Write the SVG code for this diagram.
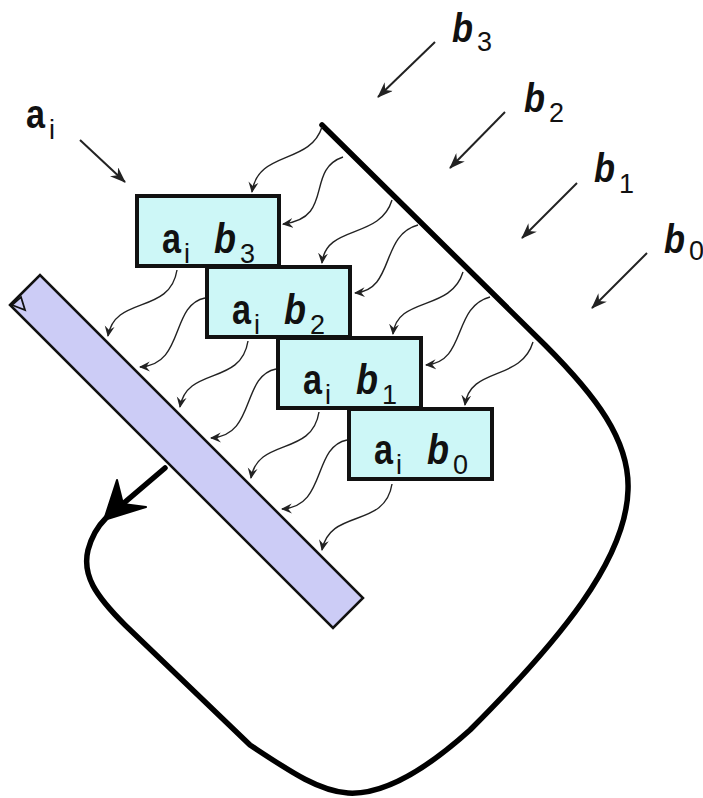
<svg xmlns="http://www.w3.org/2000/svg" width="703" height="798" viewBox="0 0 703 798">
<style>
.box{fill:#cdf7f7;stroke:#111;stroke-width:4}
.bar{fill:#ccccf6;stroke:#111;stroke-width:2.5}
.big{font-family:"Liberation Sans",Arial,sans-serif;font-weight:bold;fill:#111}
.bx{font-size:42px}
.lb{font-size:40px}
.it{font-style:italic}
.sub{font-family:"Liberation Sans",Arial,sans-serif;font-weight:normal;fill:#111;font-size:27px}
.wave{fill:none;stroke:#222;stroke-width:1.4;marker-end:url(#wh)}
.str{fill:none;stroke:#222;stroke-width:2;marker-end:url(#sh)}
.loop{fill:none;stroke:#000;stroke-width:5.5;stroke-linejoin:round;stroke-linecap:round}
</style>
<defs>
<marker id="wh" viewBox="0 0 10 10" refX="9" refY="5" markerWidth="11" markerHeight="11" markerUnits="userSpaceOnUse" orient="auto">
<path d="M0,0.5 L10,5 L0,9.5 L3.5,5 z" fill="#222"/>
</marker>
<marker id="sh" viewBox="0 0 16 12" refX="15" refY="6" markerWidth="16" markerHeight="12" markerUnits="userSpaceOnUse" orient="auto">
<path d="M0,0 L16,6 L0,12 L5,6 z" fill="#222"/>
</marker>
</defs>
<rect width="703" height="798" fill="#fff"/>

<g id="connectors">
<path class="loop" d="M322,125 L545,345 C595,395 630,440 628,490 C626,560 560,640 470,730 C420,775 380,795 348,793 C318,791 288,770 250,745 L125,625 C95,595 82,575 88,550 C92,535 98,526 106,518"/>
<line class="loop" x1="165" y1="468" x2="118" y2="508"/>
<path d="M104,520 L117,480 L123,504 L146,507 z" fill="#000" stroke="#000" stroke-width="2" stroke-linejoin="round"/>
<line class="str" x1="80" y1="140" x2="125" y2="182"/>
<line class="str" x1="435" y1="42" x2="378" y2="97"/>
<line class="str" x1="505" y1="112" x2="450" y2="168"/>
<line class="str" x1="577" y1="183" x2="522" y2="238"/>
<line class="str" x1="647" y1="253" x2="592" y2="308"/>
<path class="wave" d="M322,127 C310,165 258,150 252,192"/>
<path class="wave" d="M343,157 C305,170 335,218 283,224"/>
<path class="wave" d="M392,200 C380,240 326,224 322,263"/>
<path class="wave" d="M418,225 C380,235 395,290 355,293"/>
<path class="wave" d="M463,272 C451,312 397,296 393,334"/>
<path class="wave" d="M490,297 C452,307 467,362 426,365"/>
<path class="wave" d="M533,342 C521,382 470,366 465,405"/>
<path class="wave" d="M177,270 C170,315 115,295 108,336"/>
<path class="wave" d="M205,298 C170,305 185,365 140,367"/>
<path class="wave" d="M248,341 C241,386 187,366 180,407"/>
<path class="wave" d="M276,369 C241,376 256,436 211,438"/>
<path class="wave" d="M319,412 C312,457 258,437 251,478"/>
<path class="wave" d="M347,440 C312,447 327,507 282,509"/>
<path class="wave" d="M392,484 C385,529 330,508 322,550"/>
</g>

<g id="bar">
<polygon class="bar" points="10,305 40,275 363,598 333,628"/>
<polygon points="12,305 21,297 25,310" fill="none" stroke="#111" stroke-width="1.8"/>
</g>

<g id="box1">
<rect class="box" x="137" y="196" width="142" height="70"/>
<text class="big bx" x="162" y="253" textLength="19" lengthAdjust="spacingAndGlyphs">a</text><text class="sub" x="184" y="263">i</text>
<text class="big bx it" x="214" y="253" textLength="22" lengthAdjust="spacingAndGlyphs">b</text><text class="sub" x="240" y="263">3</text>
</g>
<g id="box2">
<rect class="box" x="207" y="267" width="143" height="70"/>
<text class="big bx" x="232" y="324" textLength="19" lengthAdjust="spacingAndGlyphs">a</text><text class="sub" x="254" y="334">i</text>
<text class="big bx it" x="284" y="324" textLength="22" lengthAdjust="spacingAndGlyphs">b</text><text class="sub" x="310" y="334">2</text>
</g>
<g id="box3">
<rect class="box" x="278" y="338" width="143" height="70"/>
<text class="big bx" x="303" y="394" textLength="19" lengthAdjust="spacingAndGlyphs">a</text><text class="sub" x="325" y="404">i</text>
<text class="big bx it" x="356" y="394" textLength="22" lengthAdjust="spacingAndGlyphs">b</text><text class="sub" x="382" y="404">1</text>
</g>
<g id="box4">
<rect class="box" x="349" y="409" width="143" height="70"/>
<text class="big bx" x="374" y="464" textLength="19" lengthAdjust="spacingAndGlyphs">a</text><text class="sub" x="396" y="474">i</text>
<text class="big bx it" x="427" y="464" textLength="22" lengthAdjust="spacingAndGlyphs">b</text><text class="sub" x="453" y="474">0</text>
</g>

<g id="label-ai">
<text class="big lb" x="26" y="128" textLength="19" lengthAdjust="spacingAndGlyphs">a</text><text class="sub" x="49" y="139">i</text>
</g>
<g id="label-b3">
<text class="big lb it" x="452" y="42" textLength="21" lengthAdjust="spacingAndGlyphs">b</text><text class="sub" x="477" y="51">3</text>
</g>
<g id="label-b2">
<text class="big lb it" x="524" y="112" textLength="21" lengthAdjust="spacingAndGlyphs">b</text><text class="sub" x="549" y="122">2</text>
</g>
<g id="label-b1">
<text class="big lb it" x="594" y="182" textLength="21" lengthAdjust="spacingAndGlyphs">b</text><text class="sub" x="619" y="193">1</text>
</g>
<g id="label-b0">
<text class="big lb it" x="664" y="253" textLength="21" lengthAdjust="spacingAndGlyphs">b</text><text class="sub" x="689" y="260">0</text>
</g>
</svg>
